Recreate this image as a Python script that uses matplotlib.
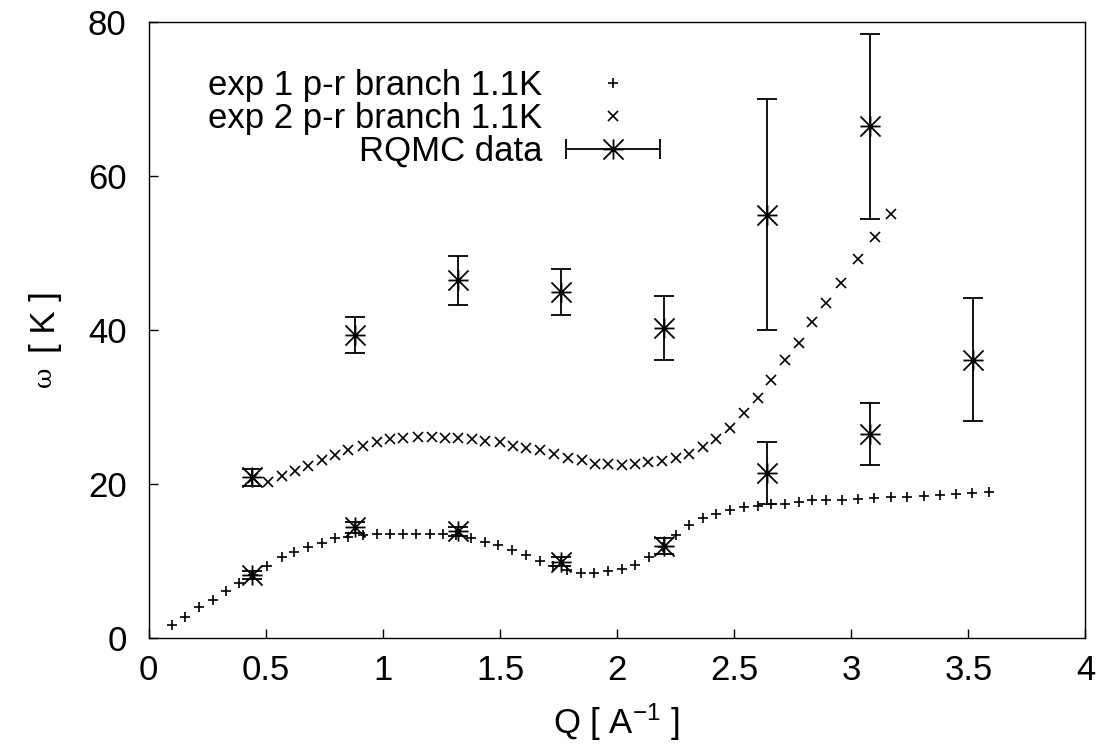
'''
Dispersion plot: experimental p-r branches vs RQMC data
'''

import numpy as np
import matplotlib
matplotlib.use('Agg')
import matplotlib.pyplot as plt
from matplotlib.path import Path
from matplotlib.legend_handler import HandlerErrorbar

plt.rcParams['font.family'] = ['Liberation Sans', 'DejaVu Sans']
plt.rcParams['mathtext.fontset'] = 'custom'
plt.rcParams['mathtext.rm'] = 'Liberation Sans'
plt.rcParams['mathtext.it'] = 'Liberation Sans'

# Data
exp1_q = [0.098, 0.155, 0.216, 0.273, 0.330, 0.387, 0.444, 0.506, 0.568, 0.621,
          0.681, 0.738, 0.795, 0.852, 0.916, 0.973, 1.030, 1.086, 1.143, 1.200,
          1.257, 1.314, 1.378, 1.435, 1.492, 1.553, 1.613, 1.670, 1.727, 1.787,
          1.844, 1.902, 1.959, 2.019, 2.076, 2.136, 2.194, 2.253, 2.307, 2.367,
          2.424, 2.484, 2.542, 2.600, 2.656, 2.716, 2.777, 2.834, 2.894, 2.962,
          3.029, 3.097, 3.168, 3.239, 3.310, 3.377, 3.449, 3.517, 3.590]
exp1_w = [1.7, 2.8, 4.0, 5.0, 6.2, 7.2, 8.2, 9.4, 10.6, 11.25,
          11.9, 12.4, 13.0, 13.2, 13.4, 13.6, 13.6, 13.6, 13.6, 13.6,
          13.5, 13.4, 13.0, 12.55, 12.1, 11.5, 10.8, 10.1, 9.4, 8.9,
          8.5, 8.45, 8.75, 9.0, 9.5, 10.5, 11.8, 13.4, 14.7, 15.6,
          16.1, 16.7, 17.0, 17.2, 17.4, 17.5, 17.7, 17.9, 17.95, 18.0,
          18.05, 18.2, 18.3, 18.4, 18.5, 18.6, 18.75, 18.9, 19.05]

exp2_q = [0.444, 0.508, 0.568, 0.624, 0.681, 0.738, 0.795, 0.852, 0.916, 0.973,
          1.030, 1.087, 1.151, 1.208, 1.265, 1.321, 1.379, 1.438, 1.500, 1.556,
          1.613, 1.670, 1.730, 1.791, 1.848, 1.905, 1.962, 2.019, 2.076, 2.132,
          2.190, 2.250, 2.307, 2.367, 2.424, 2.484, 2.542, 2.600, 2.659, 2.716,
          2.776, 2.832, 2.891, 2.958, 3.029, 3.100, 3.168]
exp2_w = [20.8, 20.3, 21.1, 21.7, 22.4, 23.15, 23.8, 24.45, 25.0, 25.45,
          25.9, 25.97, 26.2, 26.2, 26.05, 25.97, 25.9, 25.6, 25.45, 25.0,
          24.7, 24.45, 23.9, 23.45, 23.15, 22.7, 22.6, 22.5, 22.6, 22.85,
          23.0, 23.45, 24.0, 24.8, 25.9, 27.35, 29.3, 31.25, 33.5, 36.2,
          38.4, 41.1, 43.6, 46.2, 49.2, 52.1, 55.1]

rqmc_q = [0.44, 0.88, 1.32, 1.76, 2.20, 2.64, 3.08, 3.52,
          0.44, 0.88, 1.32, 1.76, 2.20, 2.64, 3.08]
rqmc_w = [8.2, 14.4, 13.9, 9.95, 12.0, 21.5, 26.5, 36.2,
          20.9, 39.4, 46.5, 45.0, 40.3, 55.0, 66.5]
rqmc_err = [0.5, 0.7, 0.6, 0.6, 1.0, 4.0, 4.0, 8.0,
            1.1, 2.3, 3.2, 3.0, 4.2, 15.0, 12.0]

xtick_vals = [0, 0.5, 1, 1.5, 2, 2.5, 3, 3.5, 4]
xtick_labels = ['0', '0.5', '1', '1.5', '2', '2.5', '3', '3.5', '4']
ytick_vals = [0, 20, 40, 60, 80]

# gnuplot-like star: + and x overlaid
star = Path([(0, -1), (0, 1), (-1, 0), (1, 0), (-1, -1), (1, 1), (-1, 1), (1, -1)],
            [Path.MOVETO, Path.LINETO] * 4)

# Plot
fs = 25
fig = plt.figure(figsize=(11.01, 7.49), dpi=100)
ax = fig.add_axes([0.1351, 0.1478, 0.8508, 0.8224])

ax.plot(exp1_q, exp1_w, linestyle='none', marker='+', ms=7.5, mew=1.2,
        color='black', label='exp 1 p-r branch 1.1K')
ax.plot(exp2_q, exp2_w, linestyle='none', marker='x', ms=7, mew=1.2,
        color='black', label='exp 2 p-r branch 1.1K')
ax.errorbar(rqmc_q, rqmc_w, yerr=rqmc_err, fmt='none', ecolor='black',
            elinewidth=1.3, capsize=7, capthick=1.3)
ax.plot(rqmc_q, rqmc_w, linestyle='none', marker=star, ms=14.5, mew=1.3,
        color='black')
# legend proxy for RQMC (horizontal error bar like the gnuplot key)
h_rq = ax.errorbar([np.nan], [np.nan], xerr=[1], marker=star, ms=14.5, mew=1.3,
                   color='black', linestyle='none', elinewidth=1.3, capsize=7,
                   capthick=1.3, label='RQMC data')

ax.set_xlim(0, 4)
ax.set_ylim(0, 80)
ax.set_xticks(xtick_vals)
ax.set_xticklabels(xtick_labels)
ax.set_yticks(ytick_vals)
ax.tick_params(direction='in', length=6.5, width=1, labelsize=fs)
ax.tick_params(axis='x', pad=11)
ax.tick_params(axis='y', pad=16)
for s in ax.spines.values():
    s.set_linewidth(1.0)

# y label: small symbol omega under "[ K ]"
fig.text(45 / 1101, 1 - 322 / 749, '[ K ]', rotation=90, ha='center',
         va='center', fontsize=fs)
fig.text(44 / 1101, 1 - 377 / 749, 'ω', rotation=90, ha='center',
         va='center', fontsize=18, family='DejaVu Serif')
fig.text(617 / 1101, 1 - 722 / 749, 'Q [ A$^{\\mathrm{-1}}$ ]', ha='center',
         va='center', fontsize=fs)

handles, labels = ax.get_legend_handles_labels()
leg = ax.legend(handles, labels, loc='upper right', bbox_to_anchor=(0.5463, 0.924),
                frameon=False, markerfirst=False, fontsize=fs, handlelength=2.74,
                handletextpad=0.66, labelspacing=0.0, borderpad=0,
                borderaxespad=0, numpoints=1,
                handler_map={h_rq: HandlerErrorbar(xerr_size=1.36)})

fig.savefig('out.png', dpi=100)
